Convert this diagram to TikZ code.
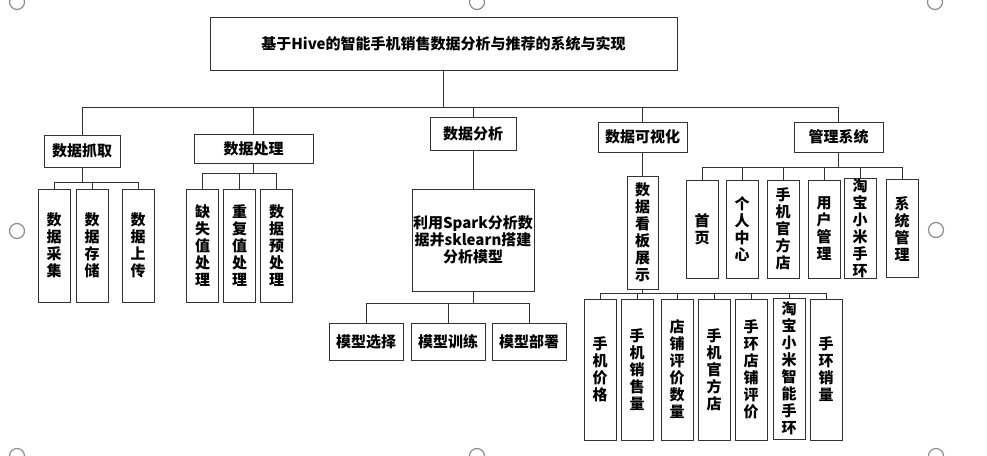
\documentclass[tikz,border=0pt]{standalone}
\usepackage{fontspec}
\newfontfamily\cjk{Noto Sans CJK SC}
\begin{document}
\begin{tikzpicture}[
    x=1pt, y=-1pt,
    box/.style={rectangle, draw=black!80, line width=0.9pt, fill=white, inner sep=0pt, align=center, font=\cjk\bfseries\fontsize{15}{17}\selectfont},
    vbox/.style={box, minimum width=32pt},
    link/.style={draw=black!80, line width=0.9pt},
    handle/.style={draw=black!45, line width=1.2pt}
  ]
  \useasboundingbox (0,0) rectangle (987,455);

  % Top level
  \node[box, minimum width=467pt, minimum height=53pt] (root) at (443.5,43.5) {基于Hive的智能手机销售数据分析与推荐的系统与实现};

  % Second level
  \node[box, minimum width=76pt, minimum height=32pt] (grab) at (82,151) {数据抓取};
  \node[box, minimum width=119pt, minimum height=29pt] (proc) at (253.5,148.5) {数据处理};
  \node[box, minimum width=86pt, minimum height=33pt] (anal) at (473,133.5) {数据分析};
  \node[box, minimum width=89pt, minimum height=30pt] (vis) at (642.5,137) {数据可视化};
  \node[box, minimum width=89pt, minimum height=30pt] (mgmt) at (838.5,137) {管理系统};

  % Third level - under grab
  \node[vbox, minimum height=113pt] (collect) at (54,245.5) {数\\据\\采\\集};
  \node[vbox, minimum height=113pt] (store) at (92,245.5) {数\\据\\存\\储};
  \node[vbox, minimum height=113pt] (upload) at (138,245.5) {数\\据\\上\\传};

  % Third level - under proc
  \node[vbox, minimum height=113pt] (missing) at (202.5,245.5) {缺\\失\\值\\处\\理};
  \node[vbox, minimum height=113pt] (dup) at (239.5,245.5) {重\\复\\值\\处\\理};
  \node[vbox, minimum height=113pt] (prep) at (276.5,245.5) {数\\据\\预\\处\\理};

  % Third level - under anal
  \node[box, minimum width=122pt, minimum height=102pt] (spark) at (473,240) {利用Spark分析数\\据并sklearn搭建\\分析模型};
  \node[box, minimum width=74pt, minimum height=37pt] (select) at (366,341.5) {模型选择};
  \node[box, minimum width=74pt, minimum height=37pt] (train) at (448,341.5) {模型训练};
  \node[box, minimum width=74pt, minimum height=37pt] (deploy) at (529,341.5) {模型部署};

  % Third level - under vis
  \node[vbox, minimum width=31pt, minimum height=113pt] (board) at (642.5,232.5) {数\\据\\看\\板\\展\\示};
  \node[vbox, minimum height=141pt] (price) at (600,369.5) {手\\机\\价\\格};
  \node[vbox, minimum height=141pt] (sales) at (637,369.5) {手\\机\\销\\售\\量};
  \node[vbox, minimum height=141pt] (reviews) at (677,369.5) {店\\铺\\评\\价\\数\\量};
  \node[vbox, minimum height=141pt] (store2) at (714,369.5) {手\\机\\官\\方\\店};
  \node[vbox, minimum height=141pt] (bandrev) at (751,369.5) {手\\环\\店\\铺\\评\\价};
  \node[vbox, minimum height=141pt] (band) at (789,368.5) {淘\\宝\\小\\米\\智\\能\\手\\环};
  \node[vbox, minimum height=141pt] (bandsales) at (826,369.5) {手\\环\\销\\量};

  % Third level - under mgmt
  \node[vbox, minimum height=98pt] (home) at (702,229) {首\\页};
  \node[vbox, minimum height=98pt] (user) at (742,229) {个\\人\\中\\心};
  \node[vbox, minimum height=98pt] (shop) at (783,229) {手\\机\\官\\方\\店};
  \node[vbox, minimum height=98pt] (users) at (824,229) {用\\户\\管\\理};
  \node[vbox, minimum height=98pt] (taobao) at (860,228.5) {淘\\宝\\小\\米\\手\\环};
  \node[vbox, minimum height=98pt] (sys) at (902,228.5) {系\\统\\管\\理};

  % Links
  \draw[link] (root.south) -- ++(0,37) -| (grab.north);
  \draw[link] (root.south) -- ++(0,37) -| (proc.north);
  \draw[link] (root.south) -- ++(0,37) -| (anal.north);
  \draw[link] (root.south) -- ++(0,37) -| (vis.north);
  \draw[link] (root.south) -- ++(0,37) -| (mgmt.north);

  \draw[link] (grab.south) -- ++(0,15) -| (collect.north);
  \draw[link] (grab.south) -- ++(0,15) -| (store.north);
  \draw[link] (grab.south) -- ++(0,15) -| (upload.north);

  \draw[link] (proc.south) -- ++(0,10) -| (missing.north);
  \draw[link] (proc.south) -- ++(0,10) -| (dup.north);
  \draw[link] (proc.south) -- ++(0,10) -| (prep.north);

  \draw[link] (anal) -- (spark);
  \draw[link] (spark.south) -- ++(0,12) -| (select.north);
  \draw[link] (spark.south) -- ++(0,12) -| (train.north);
  \draw[link] (spark.south) -- ++(0,12) -| (deploy.north);

  \draw[link] (vis) -- (board);
  \draw[link] (board.south) -- ++(0,4) -| (price.north);
  \draw[link] (board.south) -- ++(0,4) -| (sales.north);
  \draw[link] (board.south) -- ++(0,4) -| (reviews.north);
  \draw[link] (board.south) -- ++(0,4) -| (store2.north);
  \draw[link] (board.south) -- ++(0,4) -| (bandrev.north);
  \draw[link] (board.south) -- ++(0,4) -| (band.north);
  \draw[link] (board.south) -- ++(0,4) -| (bandsales.north);

  \draw[link] (mgmt.south) -- ++(0,15) -| (home.north);
  \draw[link] (mgmt.south) -- ++(0,15) -| (user.north);
  \draw[link] (mgmt.south) -- ++(0,15) -| (shop.north);
  \draw[link] (mgmt.south) -- ++(0,15) -| (users.north);
  \draw[link] (mgmt.south) -- ++(0,15) -| (taobao.north);
  \draw[link] (mgmt.south) -- ++(0,15) -| (sys.north);

  % Selection handles
  \draw[handle] (17,2) circle (7.5);
  \draw[handle] (477,2) circle (7.5);
  \draw[handle] (935,2) circle (7.5);
  \draw[handle] (17,231) circle (7.5);
  \draw[handle] (936,230) circle (7.5);
  \draw[handle] (17,456) circle (7.5);
  \draw[handle] (477,456) circle (7.5);
  \draw[handle] (936,456) circle (7.5);
\end{tikzpicture}
\end{document}
